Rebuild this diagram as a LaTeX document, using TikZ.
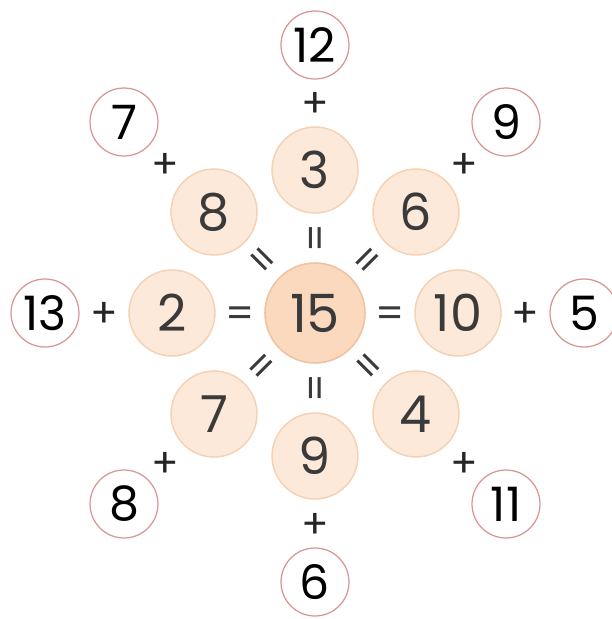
\documentclass[tikz,border=0pt]{standalone}
\usepackage{fontspec}
\setmainfont{Poppins}
\usetikzlibrary{positioning}
\usepackage{xcolor}
\definecolor{HubFill}{HTML}{FBD9BF}
\definecolor{HubBorder}{HTML}{F0C29F}
\definecolor{PartFill}{HTML}{FDE9DA}
\definecolor{PartBorder}{HTML}{F5D0B2}
\definecolor{AddBorder}{HTML}{D99593}
\definecolor{PartText}{HTML}{3A3A3A}
% centre the ink of an operator glyph in its box
\newcommand{\opglyph}[2]{\raisebox{0pt}[\dimexpr\height+#1\relax][0pt]{#2}}

\begin{document}
\begin{tikzpicture}[
  x=0.02cm,y=-0.02cm,
  hub/.style={circle,draw=HubBorder,fill=HubFill,line width=0.9pt,inner sep=0pt,
    minimum size=2cm,text=PartText,font=\fontsize{30}{30}\selectfont},
  part/.style={circle,draw=PartBorder,fill=PartFill,line width=0.8pt,inner sep=0pt,
    minimum size=1.72cm,text=PartText,font=\fontsize{29}{29}\selectfont},
  addend/.style={circle,draw=AddBorder,fill=white,line width=0.7pt,inner sep=0pt,
    minimum size=1.36cm,text=black,font=\fontsize{27}{27}\selectfont},
  eqsign/.style={sloped,inner sep=0pt,text=PartText,font=\fontsize{23}{23}\selectfont},
  plussign/.style={inner sep=0pt,text=black!85,font=\fontsize{23}{23}\selectfont}
]
\useasboundingbox (0,0) rectangle (612,619);

% The sum in the middle.
\node[hub] (sum) at (315,313) {15};

% Ring of parts, each equal to the sum with its addend.
\node[part] (p3)  at (315,170) {3};
\node[part] (p6)  at (416,212) {6};
\node[part] (p10) at (458,313) {10};
\node[part] (p4)  at (416,414) {4};
\node[part] (p9)  at (315,456) {9};
\node[part] (p7)  at (214,414) {7};
\node[part] (p2)  at (172,313) {2};
\node[part] (p8)  at (214,212) {8};

% Outer ring of addends.
\node[addend] (a12) at (315,45)  {12};
\node[addend] (a9)  at (506,122) {9};
\node[addend] (a5)  at (584,313) {5};
\node[addend] (a11) at (506,504) {11};
\node[addend] (a6)  at (315,582) {6};
\node[addend] (a8)  at (124,504) {8};
\node[addend] (a13) at (45,313)  {13};
\node[addend] (a7)  at (124,122) {7};

% Equals between the sum and each part.
\path (p3)  -- node[eqsign] {\opglyph{0.2em}{=}} (sum);
\path (p6)  -- node[eqsign] {\opglyph{0.2em}{=}} (sum);
\path (sum) -- node[eqsign] {\opglyph{0.2em}{=}} (p10);
\path (p4)  -- node[eqsign] {\opglyph{0.2em}{=}} (sum);
\path (sum) -- node[eqsign] {\opglyph{0.2em}{=}} (p9);
\path (p7)  -- node[eqsign] {\opglyph{0.2em}{=}} (sum);
\path (p2)  -- node[eqsign] {\opglyph{0.2em}{=}} (sum);
\path (p8)  -- node[eqsign] {\opglyph{0.2em}{=}} (sum);

% Plus between each part and its addend.
\path (a12) -- node[plussign] {\opglyph{0.12em}{+}} (p3);
\path (a9)  -- node[plussign] {\opglyph{0.12em}{+}} (p6);
\path (p10) -- node[plussign] {\opglyph{0.12em}{+}} (a5);
\path (a11) -- node[plussign] {\opglyph{0.12em}{+}} (p4);
\path (a6)  -- node[plussign] {\opglyph{0.12em}{+}} (p9);
\path (a8)  -- node[plussign] {\opglyph{0.12em}{+}} (p7);
\path (a13) -- node[plussign] {\opglyph{0.12em}{+}} (p2);
\path (a7)  -- node[plussign] {\opglyph{0.12em}{+}} (p8);

\end{tikzpicture}
\end{document}
